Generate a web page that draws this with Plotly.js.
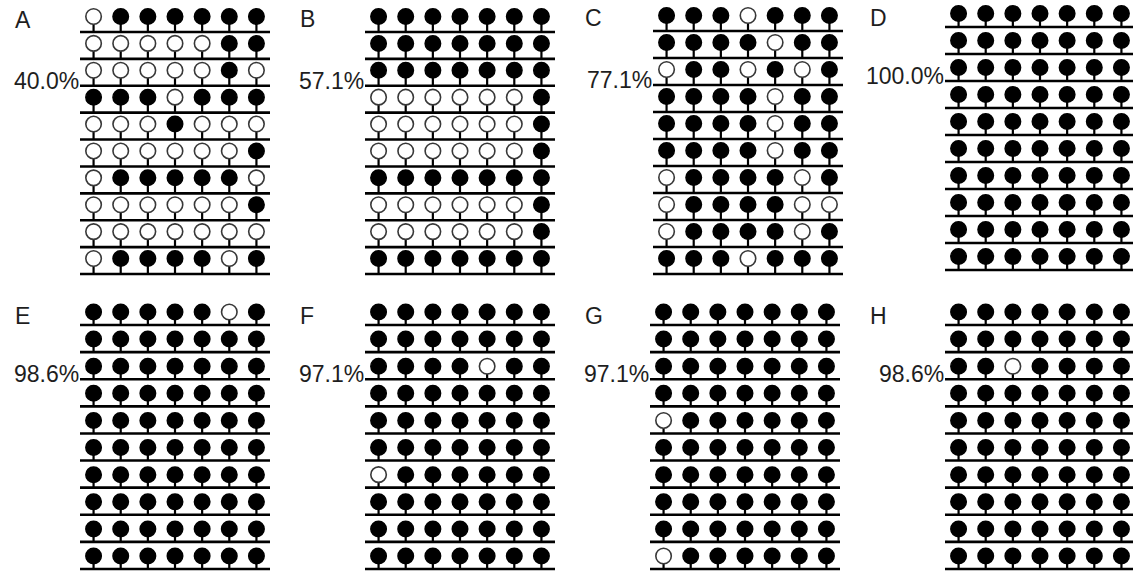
<!DOCTYPE html>
<html>
<head>
<meta charset="utf-8">
<script src="https://cdn.plot.ly/plotly-3.0.1.min.js"></script>
<style>
  html, body { margin: 0; padding: 0; background: #fff; overflow: hidden; }
  #chart { width: 1133px; height: 571px; }
</style>
</head>
<body>
<div id="chart"></div>
<script>
// Bisulfite sequencing lollipop panels: 10 clones x 7 CpG sites per sample.
const panelLetters = ['A', 'B', 'C', 'D', 'E', 'F', 'G', 'H'];
const cpgSites = [1, 2, 3, 4, 5, 6, 7];

// One string per clone, site by site: 1 = methylated (filled), 0 = unmethylated (open)
const clonesA = ['0111111', '0000011', '0000010', '1110111', '0001000',
                 '0000001', '0111110', '0000001', '0000000', '0111101'];
const clonesB = ['1111111', '1111111', '1111111', '0000001', '0000001',
                 '0000001', '1111111', '0000001', '0000001', '1111111'];
const clonesC = ['1110111', '1111011', '0110101', '1111011', '1111011',
                 '1111011', '0111101', '0111100', '0111101', '1110111'];
const clonesD = ['1111111', '1111111', '1111111', '1111111', '1111111',
                 '1111111', '1111111', '1111111', '1111111', '1111111'];
const clonesE = ['1111101', '1111111', '1111111', '1111111', '1111111',
                 '1111111', '1111111', '1111111', '1111111', '1111111'];
const clonesF = ['1111111', '1111111', '1111011', '1111111', '1111111',
                 '1111111', '0111111', '1111111', '1111111', '1111111'];
const clonesG = ['1111111', '1111111', '1111111', '1111111', '0111111',
                 '1111111', '1111111', '1111111', '1111111', '0111111'];
const clonesH = ['1111111', '1111111', '1101111', '1111111', '1111111',
                 '1111111', '1111111', '1111111', '1111111', '1111111'];

const allPanels = [clonesA, clonesB, clonesC, clonesD, clonesE, clonesF, clonesG, clonesH];

// ---- page geometry (pixels) ----
const W = 1133, H = 571;
// left/right = ends of each clone line, top/bottom = first and last clone line,
// rise = height of the lollipop head centre above its clone line
const frames = [
  { left: 80,  right: 270,  top: 32,  bottom: 274, rise: 15.5 },
  { left: 365, right: 555,  top: 32,  bottom: 274, rise: 15.5 },
  { left: 653, right: 843,  top: 31,  bottom: 274, rise: 15.5 },
  { left: 945, right: 1135, top: 27,  bottom: 270, rise: 13.5 },
  { left: 80,  right: 270,  top: 325, bottom: 569, rise: 13 },
  { left: 365, right: 555,  top: 325, bottom: 569, rise: 13 },
  { left: 650, right: 840,  top: 325, bottom: 569, rise: 13 },
  { left: 945, right: 1135, top: 325, bottom: 569, rise: 13 }
];
const letterSpots = [[13, 20], [298, 19], [583, 18], [868, 18],
                     [13, 316], [298, 316], [583, 316], [868, 316]];

const ink = '#000000';
const textInk = '#1e1e1e';
const labelFont = { family: 'Liberation Sans, Arial, sans-serif', size: 23, color: textInk };

const traces = [];
const layout = {
  width: W, height: H,
  margin: { l: 0, r: 0, t: 0, b: 0 },
  paper_bgcolor: '#fff', plot_bgcolor: 'rgba(0,0,0,0)',
  showlegend: false,
  annotations: []
};

allPanels.forEach((clones, k) => {
  const f = frames[k];
  const sfx = k === 0 ? '' : String(k + 1);
  const xName = 'x' + sfx, yName = 'y' + sfx;

  const nSites = cpgSites.length;
  const u = (f.right - f.left) / nSites;              // px per site
  const s = (f.bottom - f.top) / (clones.length - 1); // px per clone row
  const rise = f.rise / s;

  // axis windows
  const pxL = f.left - 3, pxR = Math.min(f.right + 3, W);
  const xRange = [0.5 + (pxL - f.left) / u, 0.5 + (pxR - f.left) / u];
  const pxT = f.top - s, pxB = Math.min(f.bottom + 3, H);
  const yRange = [1 + (pxB - f.top) / s, 1 + (pxT - f.top) / s];

  const axisBase = { visible: false, showgrid: false, zeroline: false, fixedrange: true, autorange: false };
  layout['xaxis' + sfx] = Object.assign({}, axisBase, {
    domain: [pxL / W, pxR / W], range: xRange, anchor: yName
  });
  layout['yaxis' + sfx] = Object.assign({}, axisBase, {
    domain: [1 - pxB / H, 1 - pxT / H], range: yRange, anchor: xName
  });

  const lx = [], ly = [];            // clone lines
  const sx = [], sy = [];            // stems
  const fx = [], fy = [], ox = [], oy = [];  // heads
  let methylated = 0, total = 0;

  clones.forEach((clone, r) => {
    const row = r + 1;
    lx.push(0.5, nSites + 0.5, null);
    ly.push(row, row, null);
    cpgSites.forEach((site, j) => {
      sx.push(site, site, null);
      sy.push(row - rise, row, null);
      total += 1;
      if (clone[j] === '1') { fx.push(site); fy.push(row - rise); methylated += 1; }
      else { ox.push(site); oy.push(row - rise); }
    });
  });

  traces.push({
    type: 'scatter', mode: 'lines', x: lx, y: ly, xaxis: xName, yaxis: yName,
    line: { color: ink, width: 2.6 }, hoverinfo: 'skip'
  });
  traces.push({
    type: 'scatter', mode: 'lines', x: sx, y: sy, xaxis: xName, yaxis: yName,
    line: { color: ink, width: 2.2 }, hoverinfo: 'skip'
  });
  traces.push({
    type: 'scatter', mode: 'markers', x: fx, y: fy, xaxis: xName, yaxis: yName,
    marker: { symbol: 'circle', size: 15.5, color: ink, line: { color: ink, width: 1.5 } },
    hoverinfo: 'skip'
  });
  traces.push({
    type: 'scatter', mode: 'markers', x: ox, y: oy, xaxis: xName, yaxis: yName,
    marker: { symbol: 'circle', size: 15.5, color: '#ffffff', line: { color: '#383838', width: 1.6 } },
    hoverinfo: 'skip'
  });

  // panel letter
  layout.annotations.push({
    xref: 'paper', yref: 'paper',
    x: letterSpots[k][0] / W, y: 1 - letterSpots[k][1] / H,
    xanchor: 'left', yanchor: 'middle',
    text: panelLetters[k], showarrow: false, font: labelFont
  });

  // methylation percentage, next to the third clone line
  const pct = (100 * methylated / total).toFixed(1) + '%';
  layout.annotations.push({
    xref: xName, yref: yName,
    x: 0.5, y: 3 - 5 / s,
    xanchor: 'right', yanchor: 'middle', xshift: 1,
    text: pct, showarrow: false, font: labelFont
  });
});

Plotly.newPlot('chart', traces, layout, { staticPlot: true, displayModeBar: false });
</script>
</body>
</html>
